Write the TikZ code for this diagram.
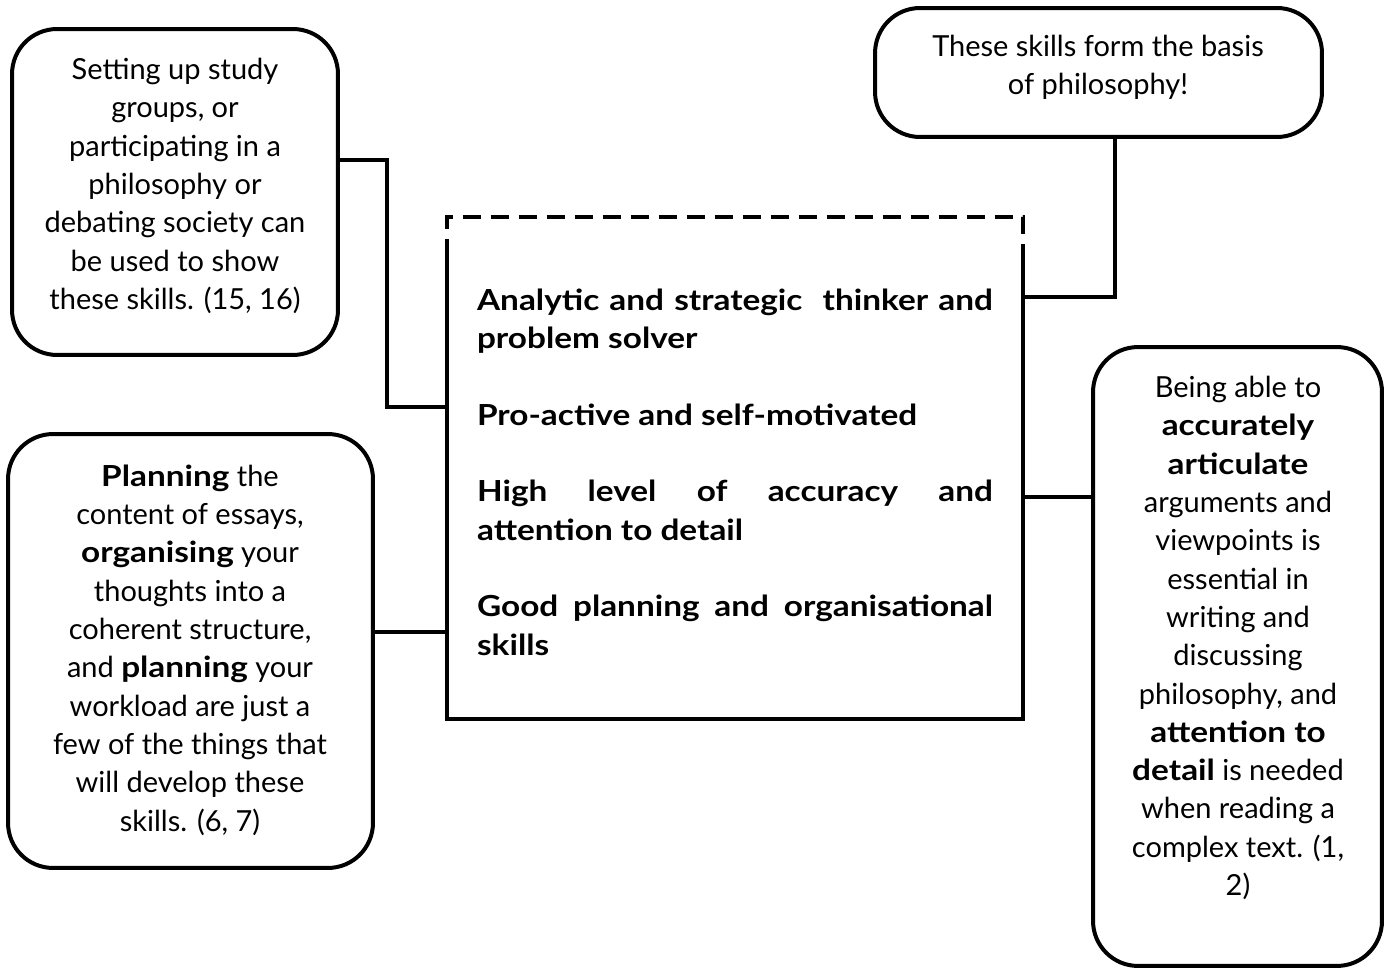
\documentclass[tikz,border=0pt]{standalone}
\usepackage{fontspec}
\setmainfont{Lato}[BoldFeatures={FakeStretch=1.15}]
\usetikzlibrary{calc}
\begin{document}
\begin{tikzpicture}[x=0.02cm,y=-0.02cm,
  bubble/.style={draw, line width=0.08cm, rounded corners=0.9cm, inner sep=0pt},
  btext/.style={align=center, font=\fontsize{16.5pt}{21.8pt}\selectfont},
  conn/.style={line width=0.08cm},
  frame/.style={line width=0.08cm}]
\useasboundingbox (0,0) rectangle (1389,969);
% side boxes
\node[bubble, minimum width=6.52cm, minimum height=6.52cm] (tl) at (175,192) {};
\node[btext] (tltext) at (175,186)
 {Setting up study\\groups, or\\participating in a\\philosophy or\\debating society can\\be used to show\\these skills. (15, 16)};
\node[bubble, minimum width=8.94cm, minimum height=2.58cm] (tr) at (1098.5,72.5) {};
\node[btext] (trtext) at (1098,67.5)
 {These skills form the basis\\of philosophy!};
\node[bubble, minimum width=7.3cm, minimum height=8.68cm] (bl) at (190.5,651) {};
\node[btext] (bltext) at (190,650)
 {\textbf{Planning} the\\content of essays,\\\textbf{organising} your\\thoughts into a\\coherent structure,\\and \textbf{planning} your\\workload are just a\\few of the things that\\will develop these\\skills. (6, 7)};
\node[bubble, minimum width=5.78cm, minimum height=12.38cm] (rt) at (1237.5,656.5) {};
\node[btext] (rttext) at (1238,638)
 {Being able to\\\textbf{accurately}\\\textbf{articulate}\\arguments and\\viewpoints is\\essential in\\writing and\\discussing\\philosophy, and\\\textbf{attention to}\\\textbf{detail} is needed\\when reading a\\complex text. (1,\\2)};
% centre box
\node[minimum width=11.52cm, minimum height=10.04cm, inner sep=0pt] (center) at (735,468) {};
\node[text width=10.32cm, align=justify, inner sep=0pt, font=\bfseries\fontsize{16.5pt}{21.8pt}\selectfont] (ctext) at (735,472)
 {Analytic and strategic\ \ thinker and\linebreak problem solver\par
  \vspace{21.8pt}Pro-active and self-motivated\par
  \vspace{21.8pt}High level of accuracy and\linebreak attention to detail\par
  \vspace{21.8pt}Good planning and organisational\linebreak skills};
\draw[frame, dash pattern=on 0.36cm off 0.2cm] ($(center.north west)+(0,40)$) -- (center.north west) -- (center.north east) -- ($(center.north east)+(0,40)$);
\draw[frame] ($(center.north west)+(0,40)$) -- (center.south west) -- (center.south east) -- ($(center.north east)+(0,40)$);
% connectors
\coordinate (j1) at (387,160);
\coordinate (j2) at (387,407);
\coordinate (j3) at (1115,297);
\coordinate (j4) at (410,632);
\coordinate (j5) at (1060,497);
\draw[conn] (tl.east |- j1) -- (j1) -- (j2) -- (center.west |- j2);
\draw[conn] (tr.south -| j3) -- (j3) -- (center.east |- j3);
\draw[conn] (bl.east |- j4) -- (center.west |- j4);
\draw[conn] (center.east |- j5) -- (rt.west |- j5);
\end{tikzpicture}
\end{document}
